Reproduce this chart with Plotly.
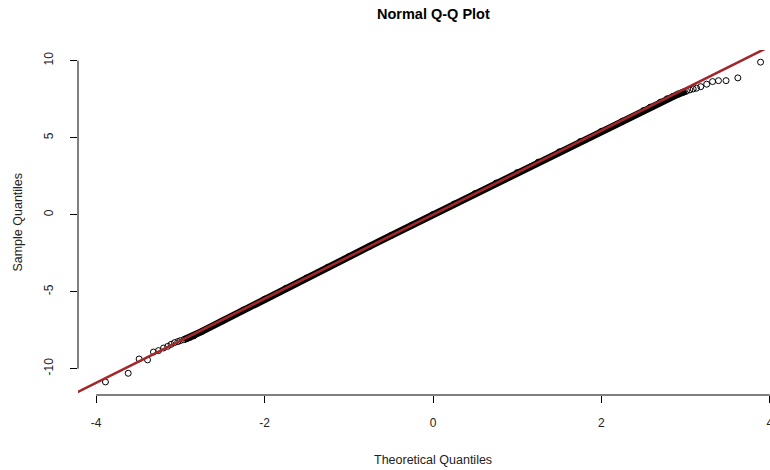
import plotly.graph_objects as go

# ---- data ----
# theoretical quantiles (x) and sample quantiles (y) of the plotted points
theoretical = [-3.89, -3.62, -3.49, -3.39, -3.32, -3.26, -3.20, -3.15, -3.11, -3.07,
               -3.03, -3.00, -2.96, -2.92, -2.88, -2.84,
               -2.75, -2.50, -2.25, -2.00, -1.75, -1.50, -1.25, -1.00, -0.75, -0.50,
               -0.25, 0.00, 0.25, 0.50, 0.75, 1.00, 1.25, 1.50, 1.75, 2.00, 2.25, 2.50,
               2.58, 2.70, 2.78, 2.85, 2.91, 2.97, 3.01, 3.05, 3.09, 3.13, 3.18, 3.25,
               3.32, 3.39, 3.48, 3.62, 3.89]
sample = [-10.86, -10.30, -9.37, -9.43, -8.92, -8.83, -8.66, -8.55, -8.42, -8.31,
          -8.24, -8.18, -8.12, -8.04, -7.96, -7.87,
          -7.60, -6.90, -6.19, -5.49, -4.79, -4.11, -3.42, -2.73, -2.05, -1.36,
          -0.68, 0.01, 0.69, 1.37, 2.05, 2.73, 3.41, 4.08, 4.75, 5.41, 6.07, 6.76,
          6.98, 7.30, 7.52, 7.68, 7.82, 7.95, 8.03, 8.10, 8.16, 8.21, 8.31, 8.47,
          8.64, 8.70, 8.70, 8.88, 9.90]

# qqline parameters
qq_slope = 2.73
qq_intercept = 0.0

x_ticks = [-4, -2, 0, 2, 4]
y_ticks = [-10, -5, 0, 5, 10]

# dense region where the points merge into a solid band
band_lo, band_hi = -2.97, 3.02

FONT = "Liberation Sans, Arial, Helvetica, sans-serif"
RED = "#A3262A"

bx = [x for x in theoretical if band_lo <= x <= band_hi]
by = [y for x, y in zip(theoretical, sample) if band_lo <= x <= band_hi]

xr = [-4.216, 4.002]
yr = [-11.71, 10.69]

fig = go.Figure()
# solid band made by the overlapping points
fig.add_trace(go.Scatter(x=bx, y=by, mode="lines",
                         line=dict(color="black", width=7),
                         hoverinfo="skip", showlegend=False))
# individual points (open circles)
fig.add_trace(go.Scatter(x=theoretical, y=sample, mode="markers",
                         marker=dict(symbol="circle-open", size=6,
                                     color="black", line=dict(width=1)),
                         cliponaxis=True, showlegend=False))
# qqline
lx = [-4.5, 4.5]
ly = [qq_intercept + qq_slope * v for v in lx]
fig.add_trace(go.Scatter(x=lx, y=ly, mode="lines",
                         line=dict(color=RED, width=2.6),
                         hoverinfo="skip", showlegend=False))

fig.update_layout(
    width=770, height=470,
    margin=dict(l=78, r=0, t=50, b=75),
    paper_bgcolor="white", plot_bgcolor="white",
    font=dict(family=FONT, size=12, color="black"),
    showlegend=False,
    xaxis=dict(range=xr, tickvals=x_ticks, ticktext=[str(v) for v in x_ticks],
               ticks="outside", ticklen=7, tickcolor="black", tickwidth=1,
               showgrid=False, zeroline=False, showline=False,
               ticklabelstandoff=10, automargin=False, ticklabeloverflow="allow",
               tickfont=dict(size=12, color="#222")),
    yaxis=dict(range=yr, tickvals=y_ticks, ticktext=[str(v) for v in y_ticks],
               ticks="outside", ticklen=7, tickcolor="black", tickwidth=1,
               showgrid=False, zeroline=False, showline=False,
               tickangle=-90, ticklabelstandoff=12, automargin=False,
               tickfont=dict(size=12, color="#222")),
    shapes=[
        dict(type="line", xref="x", yref="paper", x0=x_ticks[0], x1=x_ticks[-1],
             y0=0, y1=0, line=dict(color="black", width=1)),
        dict(type="line", xref="paper", yref="y", x0=0, x1=0,
             y0=y_ticks[0], y1=y_ticks[-1], line=dict(color="black", width=1)),
    ],
    annotations=[
        dict(text="<b>Normal Q-Q Plot</b>", xref="x", yref="paper", x=0, y=1.104,
             showarrow=False, font=dict(size=14.5, family=FONT, color="black"),
             xanchor="center", yanchor="middle"),
        dict(text="Theoretical Quantiles", xref="x", yref="paper", x=0, y=-0.188,
             showarrow=False, font=dict(size=12.5, family=FONT, color="#222"),
             xanchor="center", yanchor="middle"),
        dict(text="Sample Quantiles", xref="paper", yref="paper", x=-0.088, y=0.5,
             showarrow=False, textangle=-90,
             font=dict(size=12.5, family=FONT, color="#222"),
             xanchor="center", yanchor="middle"),
    ],
)

fig.write_html("out.html", config={"displayModeBar": False},
               post_script="document.body.style.margin='0';"
                           "document.body.style.overflow='hidden';")
